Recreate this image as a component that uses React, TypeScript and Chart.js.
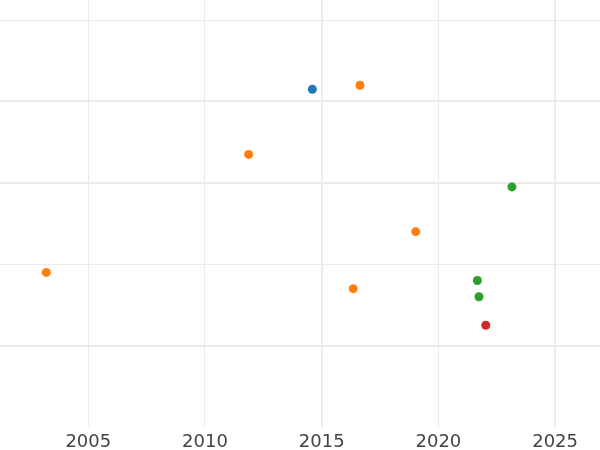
import React, { useEffect, useRef } from "react";
import { Chart, registerables } from "chart.js";

Chart.register(...registerables);

const xTickYears = [2005, 2010, 2015, 2020, 2025];
const yGridValues = [1, 2, 3, 4, 5];

const blueYears = [2014.6];
const blueValues = [4.15];

const orangeYears = [2016.64, 2011.87, 2019.03, 2003.2, 2016.35];
const orangeValues = [4.2, 3.35, 2.4, 1.9, 1.7];

const greenYears = [2023.15, 2021.67, 2021.74];
const greenValues = [2.95, 1.8, 1.6];

const redYears = [2022.03];
const redValues = [1.25];

const X_MIN = 2001.217;
const X_MAX = 2026.924;
const Y_MIN = 0;
const Y_MAX = 5.247;

const GRID = "#ebebeb";

function pts(xs: number[], ys: number[]) {
  return xs.map((x, i) => ({ x, y: ys[i] }));
}

export default function App() {
  const ref = useRef<HTMLCanvasElement | null>(null);

  useEffect(() => {
    if (!ref.current) return;
    const mk = (label: string, xs: number[], ys: number[], color: string) => ({
      label,
      data: pts(xs, ys),
      backgroundColor: color,
      borderColor: color,
      borderWidth: 0,
      pointRadius: 4.5,
      pointHoverRadius: 4.5,
      clip: false,
    });
    const chart = new Chart(ref.current, {
      type: "scatter",
      data: {
        datasets: [
          mk("blue", blueYears, blueValues, "#1f77b4"),
          mk("orange", orangeYears, orangeValues, "#ff7f0e"),
          mk("green", greenYears, greenValues, "#2ca02c"),
          mk("red", redYears, redValues, "#d62728"),
        ],
      },
      options: {
        responsive: false,
        animation: false,
        layout: { padding: 0, autoPadding: false },
        plugins: {
          legend: { display: false },
          tooltip: { enabled: false },
        },
        events: [],
        scales: {
          x: {
            type: "linear",
            min: X_MIN,
            max: X_MAX,
            afterBuildTicks: (scale: any) => {
              scale.ticks = xTickYears.map((v) => ({ value: v }));
            },
            afterFit: (scale: any) => {
              scale.height = 23;
            },
            border: { display: false },
            grid: {
              drawTicks: false,
              color: GRID,
              lineWidth: (ctx: any) =>
                ctx.tick && (ctx.tick.value === 2015 || ctx.tick.value === 2025) ? 2 : 1,
            },
            ticks: {
              padding: 5,
              color: "#444444",
              font: { family: "DejaVu Sans", size: 18 },
              maxRotation: 0,
              autoSkip: false,
              callback: (v: any) => String(v),
            },
          },
          y: {
            type: "linear",
            min: Y_MIN,
            max: Y_MAX,
            afterBuildTicks: (scale: any) => {
              scale.ticks = yGridValues.map((v) => ({ value: v }));
            },
            afterFit: (scale: any) => {
              scale.width = 0;
            },
            border: { display: false },
            grid: {
              drawTicks: false,
              color: GRID,
              lineWidth: (ctx: any) =>
                ctx.tick && (ctx.tick.value === 1 || ctx.tick.value === 3 || ctx.tick.value === 4) ? 2 : 1,
            },
            ticks: { display: false },
          },
        },
      },
    } as any);
    return () => chart.destroy();
  }, []);

  return (
    <div style={{ position: "absolute", left: 0, top: 0, width: 600, height: 450, background: "#ffffff" }}>
      <canvas ref={ref} width={600} height={450} style={{ display: "block" }} />
    </div>
  );
}
